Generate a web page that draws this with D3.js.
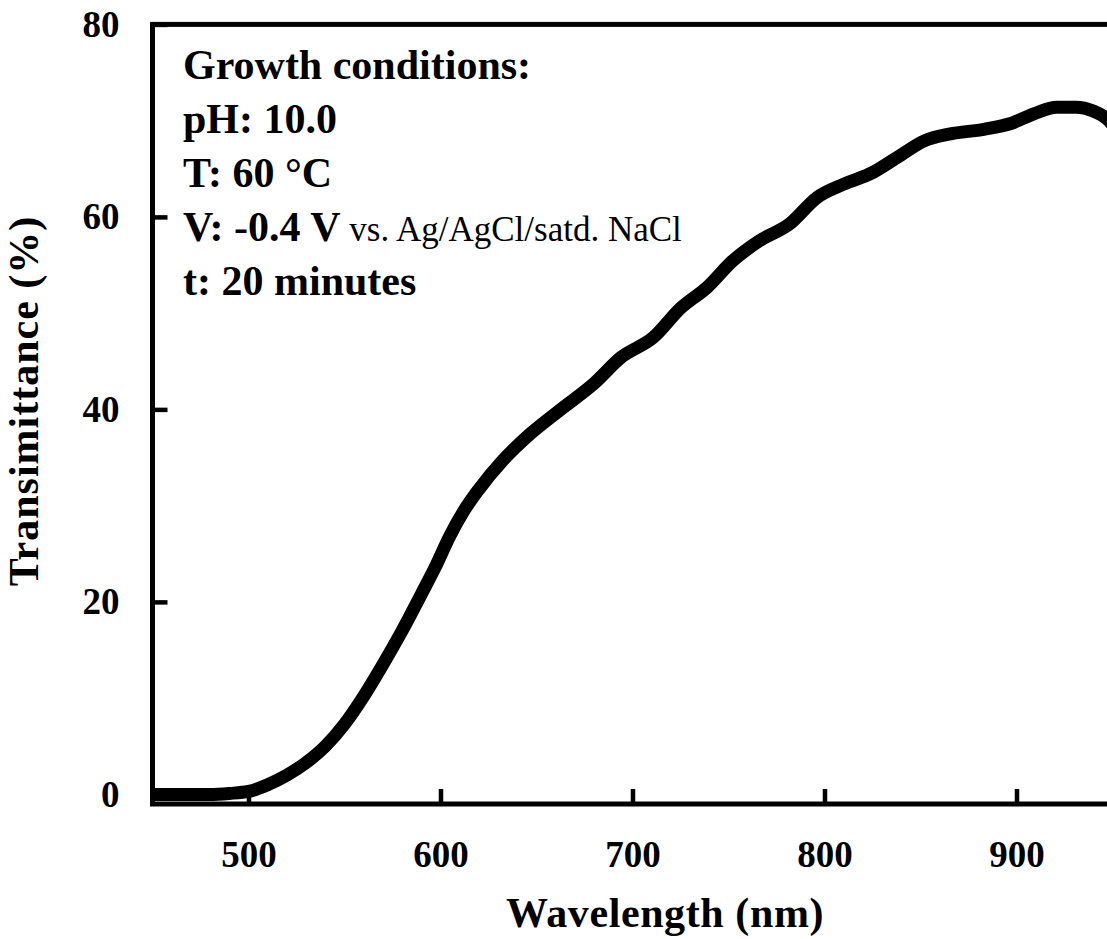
<!DOCTYPE html>
<html lang="en">
<head>
  <meta charset="UTF-8">
  <title>Transmittance spectrum</title>
  <script src="https://d3js.org/d3.v7.min.js"></script>
  <style>
    body { margin: 0; background: #fff; }
    svg { display: block; overflow: hidden; }
    text { font-family: "Liberation Serif", "Times New Roman", serif; fill: #000; }
    .tick text { font-size: 37px; font-weight: bold; }
    .tick line { stroke: #000; stroke-width: 4.5px; }
    .domain { display: none; }
  </style>
</head>
<body>
<script>
  // wavelength (nm) and transmittance (%)
  const wavelength = [450, 460, 470, 480, 490, 500, 510, 520, 530, 540, 550, 560, 570, 580, 590, 597,
    605, 612, 620, 632, 647, 662, 680, 694, 711, 725, 739, 752, 766, 782, 796, 810, 825, 838,
    852, 865, 883, 897, 909, 921, 931, 940, 947, 950];
  const transmittance = [0, 0, 0, 0, 0.1, 0.3, 1.0, 2.0, 3.3, 5.0, 7.3, 10.2, 13.5, 17.0, 20.8, 23.5,
    26.9, 29.4, 31.7, 34.6, 37.5, 39.9, 42.7, 45.4, 47.5, 50.5, 52.7, 55.4, 57.5, 59.3, 62.0, 63.4, 64.6, 66.2,
    67.9, 68.6, 69.1, 69.7, 70.7, 71.4, 71.4, 71.0, 70.2, 69.6];
  const xTicks = [500, 600, 700, 800, 900];
  const yTicks = [0, 20, 40, 60, 80];
  const conditions = ["Growth conditions:", "pH: 10.0", "T: 60 \u00B0C", "V: -0.4 V", "t: 20 minutes"];

  const data = wavelength.map((w, i) => ({ w: w, t: transmittance[i] }));

  const margin = { top: 24.4, left: 152.5 };
  const width = 960, height = 779.6;

  const svg = d3.select("body").append("svg")
    .attr("width", 1107)
    .attr("height", 939);

  const g = svg.append("g")
    .attr("transform", "translate(" + margin.left + "," + margin.top + ")");

  const x = d3.scaleLinear().domain([450, 950]).range([0, width]);
  const y = d3.scaleLinear().domain([-1, 80]).range([height, 0]);

  // axes with inward ticks
  g.append("g")
    .attr("transform", "translate(0," + height + ")")
    .call(d3.axisBottom(x).tickValues(xTicks).tickSize(-15).tickSizeOuter(0).tickPadding(37));

  g.append("g")
    .call(d3.axisLeft(y).tickValues(yTicks).tickSize(-15).tickSizeOuter(0).tickPadding(33));

  // frame (right side falls outside the picture)
  g.append("rect")
    .attr("x", 0).attr("y", 0)
    .attr("width", width).attr("height", height)
    .attr("fill", "none")
    .attr("stroke", "#000")
    .attr("stroke-width", 5);

  const line = d3.line()
    .x(d => x(d.w))
    .y(d => y(d.t))
    .curve(d3.curveMonotoneX);

  g.append("path")
    .datum(data)
    .attr("fill", "none")
    .attr("stroke", "#000")
    .attr("stroke-width", 13)
    .attr("stroke-linejoin", "round")
    .attr("d", line);

  // annotation
  const note = svg.append("g");
  conditions.forEach((s, i) => {
    const t = note.append("text")
      .attr("x", 183)
      .attr("y", 79 + i * 54)
      .style("font-size", "42px")
      .style("font-weight", "bold")
      .text(s);
    if (i === 3) {
      t.append("tspan")
        .style("font-size", "35px")
        .style("font-weight", "normal")
        .text(" vs. Ag/AgCl/satd. NaCl");
    }
  });

  // axis titles
  svg.append("text")
    .attr("x", 665)
    .attr("y", 927)
    .attr("text-anchor", "middle")
    .style("font-size", "42px")
    .style("font-weight", "bold")
    .style("letter-spacing", "0.6px")
    .text("Wavelength (nm)");

  svg.append("text")
    .attr("transform", "translate(38,401) rotate(-90)")
    .attr("text-anchor", "middle")
    .style("font-size", "42px")
    .style("font-weight", "bold")
    .style("letter-spacing", "1px")
    .text("Transimittance (%)");
</script>
</body>
</html>
